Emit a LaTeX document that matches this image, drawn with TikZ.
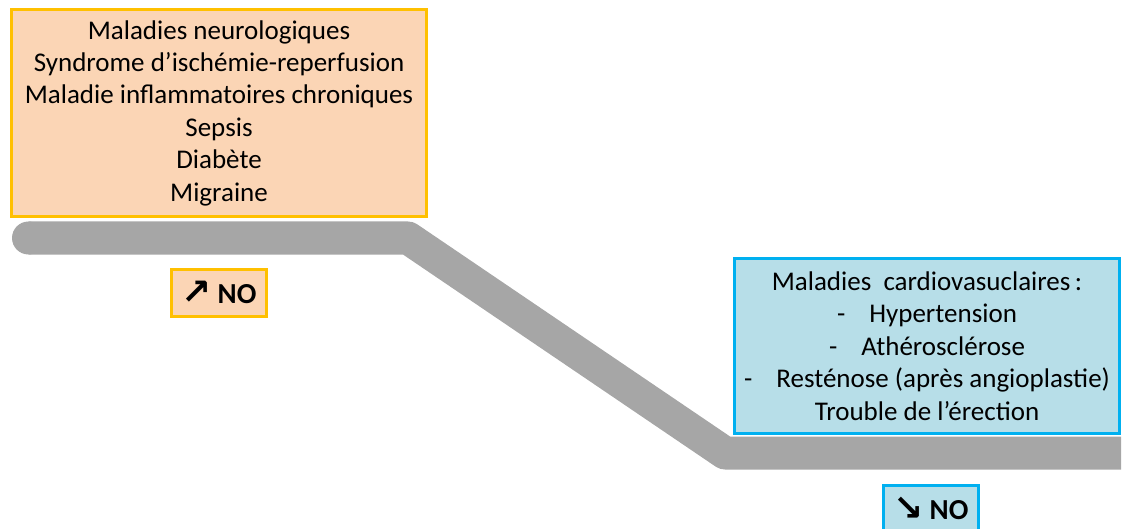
\documentclass[tikz,border=0pt]{standalone}
\usepackage{fontspec}
\setmainfont{Carlito}
\newfontfamily\arrowfont{DejaVu Sans}
\definecolor{bandgrey}{HTML}{A6A6A6}
\definecolor{peach}{HTML}{FBD5B5}
\definecolor{amber}{HTML}{FFC000}
\definecolor{lightblue}{HTML}{B7DEE8}
\definecolor{skyblue}{HTML}{00B0F0}
\begin{document}
\begin{tikzpicture}[x=1pt,y=-1pt,
  band/.style={draw=bandgrey,line width=33pt,line join=round,line cap=butt},
  upbox/.style={draw=amber,fill=peach,line width=3pt,inner sep=0pt,align=center,
    font=\fontsize{27}{32.4}\selectfont},
  downbox/.style={draw=skyblue,fill=lightblue,line width=3pt,inner sep=0pt,align=center,
    font=\fontsize{27}{32.4}\selectfont},
  tag/.style={inner sep=0pt,minimum width=95pt,minimum height=47pt,
    font=\fontsize{29}{34}\selectfont\bfseries}]
\useasboundingbox (0,0) rectangle (1123,529);
% grey level line
\coordinate (b1) at (28.5,238);
\coordinate (b2) at (408,238);
\coordinate (b3) at (725,453);
\coordinate (b4) at (1121,453);
\draw[band] (b1) -- (b2) -- (b3) -- (b4);
\fill[bandgrey] (b1) circle (16.5);
% boxes
\node[upbox,minimum width=415pt,minimum height=207pt] (high) at (219,113)
  {Maladies neurologiques\\
   Syndrome d’ischémie-reperfusion\\
   Maladie inflammatoires chroniques\\
   Sepsis\\
   Diabète\\
   Migraine};
\node[upbox,tag] (up) at (219,293) {\raisebox{-1pt}{\arrowfont\fontsize{36}{40}\selectfont\bfseries ↗}\hspace{6pt}NO};
\node[downbox,minimum width=385pt,minimum height=175pt] (low) at (927,346)
  {Maladies\ \ cardiovasuclaires\,:\\
   -\hspace{24pt}Hypertension\\
   -\hspace{24pt}Athérosclérose\\
   -\hspace{24pt}Resténose (après angioplastie)\\
   Trouble de l’érection};
\node[downbox,tag] (down) at (931,509) {\raisebox{-1pt}{\arrowfont\fontsize{36}{40}\selectfont\bfseries ↘}\hspace{6pt}NO};
\end{tikzpicture}
\end{document}
